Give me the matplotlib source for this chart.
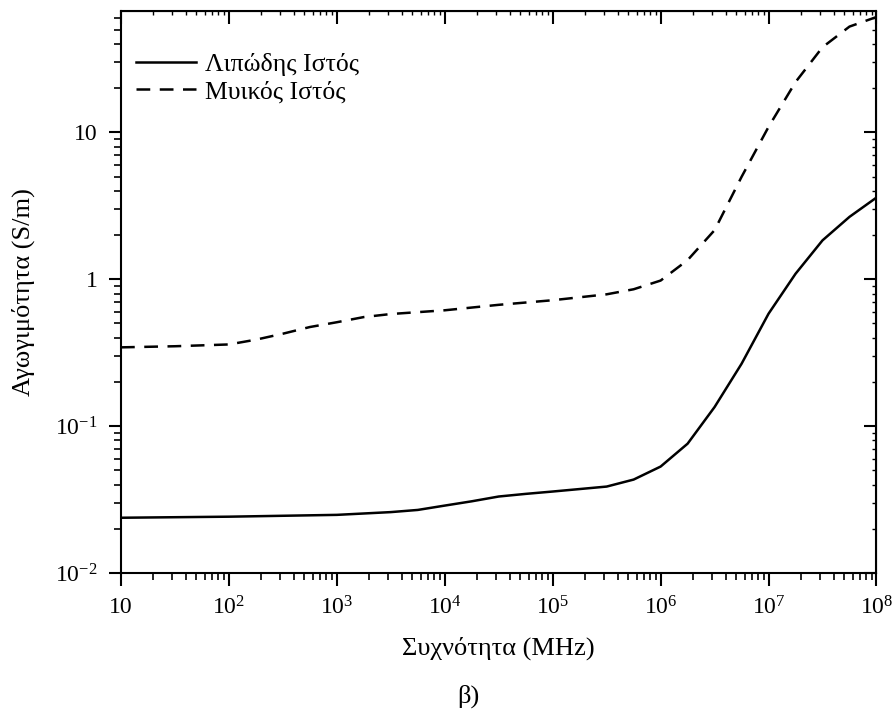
import matplotlib.pyplot as plt
from matplotlib.ticker import LogLocator, FixedLocator, NullFormatter

plt.rcParams['font.family'] = ['Liberation Serif', 'DejaVu Serif']
plt.rcParams['mathtext.fontset'] = 'custom'
plt.rcParams['mathtext.rm'] = 'Liberation Serif'
plt.rcParams['mathtext.it'] = 'Liberation Serif:italic'

# fat tissue (solid)
f_fat = [10, 100, 1000, 3162, 5623, 1e4, 1.778e4, 3.162e4, 5.623e4, 1e5, 3.162e5,
         5.623e5, 1e6, 1.778e6, 3.162e6, 5.623e6, 1e7, 1.778e7, 3.162e7, 5.623e7, 1e8]
s_fat = [0.0238, 0.0242, 0.0249, 0.026, 0.0269, 0.0288, 0.0308, 0.0332, 0.0346, 0.0359, 0.0388,
         0.0433, 0.0531, 0.076, 0.135, 0.266, 0.583, 1.09, 1.84, 2.66, 3.6]

# muscle tissue (dashed)
f_mus = [10, 31.6, 100, 178, 316, 562, 1000, 1778, 3162, 1e4, 3.162e4, 1e5, 3.162e5,
         5.623e5, 1e6, 1.778e6, 3.162e6, 5.623e6, 1e7, 1.778e7, 3.162e7, 5.623e7, 1e8]
s_mus = [0.344, 0.35, 0.36, 0.388, 0.426, 0.473, 0.51, 0.553, 0.58, 0.615, 0.67, 0.72, 0.79,
         0.855, 0.98, 1.35, 2.16, 4.98, 10.9, 22, 38, 52.5, 61]

xticks = [10, 1e2, 1e3, 1e4, 1e5, 1e6, 1e7, 1e8]
xlabels = ['10', r'$10^{2}$', r'$10^{3}$', r'$10^{4}$', r'$10^{5}$', r'$10^{6}$', r'$10^{7}$', r'$10^{8}$']
yticks = [0.01, 0.1, 1, 10]
ylabels = [r'$10^{-2}$', r'$10^{-1}$', '1', '10']

fig = plt.figure(figsize=(8.93, 7.11), dpi=100)
ax = fig.add_axes([0.1355, 0.194, 0.846, 0.7905])

ax.plot(f_fat, s_fat, color='black', lw=1.8, label='Λιπώδης Ιστός')
ax.plot(f_mus, s_mus, color='black', lw=1.8, dashes=(5.5, 3.8), label='Μυικός Ιστός')

ax.set_xscale('log')
ax.set_yscale('log')
ax.set_xlim(10, 1e8)
ax.set_ylim(0.01, 67)

ax.xaxis.set_major_locator(FixedLocator(xticks))
ax.set_xticklabels(xlabels)
ax.yaxis.set_major_locator(FixedLocator(yticks))
ax.set_yticklabels(ylabels)
ax.xaxis.set_minor_locator(LogLocator(base=10, subs=range(2, 10), numticks=20))
ax.yaxis.set_minor_locator(LogLocator(base=10, subs=range(2, 10), numticks=20))
ax.xaxis.set_minor_formatter(NullFormatter())
ax.yaxis.set_minor_formatter(NullFormatter())

ax.tick_params(which='major', direction='out', length=9, width=1.5, labelsize=17, pad=8)
ax.tick_params(which='minor', direction='out', length=5, width=1.2)
for sp in ax.spines.values():
    sp.set_linewidth(1.5)

# inward ticks on top and right
axt = ax.secondary_xaxis('top')
axt.xaxis.set_major_locator(FixedLocator(xticks))
axt.xaxis.set_minor_locator(LogLocator(base=10, subs=range(2, 10), numticks=20))
axt.tick_params(which='major', direction='in', length=9, width=1.5, labeltop=False)
axt.tick_params(which='minor', direction='in', length=3, width=1.0)
axt.xaxis.set_major_formatter(NullFormatter())
axt.xaxis.set_minor_formatter(NullFormatter())
axr = ax.secondary_yaxis('right')
axr.yaxis.set_major_locator(FixedLocator(yticks))
axr.yaxis.set_minor_locator(LogLocator(base=10, subs=range(2, 10), numticks=20))
axr.tick_params(which='major', direction='in', length=9, width=1.5, labelright=False)
axr.tick_params(which='minor', direction='in', length=3, width=1.0)
axr.yaxis.set_major_formatter(NullFormatter())
axr.yaxis.set_minor_formatter(NullFormatter())

ax.set_xlabel('Συχνότητα (MHz)', fontsize=19, labelpad=12)
ax.set_ylabel('Αγωγιμότητα (S/m)', fontsize=19, labelpad=14)

ax.legend(loc='upper left', frameon=False, fontsize=18.5, handlelength=2.3,
          handletextpad=0.35, labelspacing=0.15, borderaxespad=0.2, bbox_to_anchor=(0.0, 0.952))

fig.text(0.525, 0.012, 'β)', fontsize=19, ha='center')

fig.savefig('out.png', dpi=100)
